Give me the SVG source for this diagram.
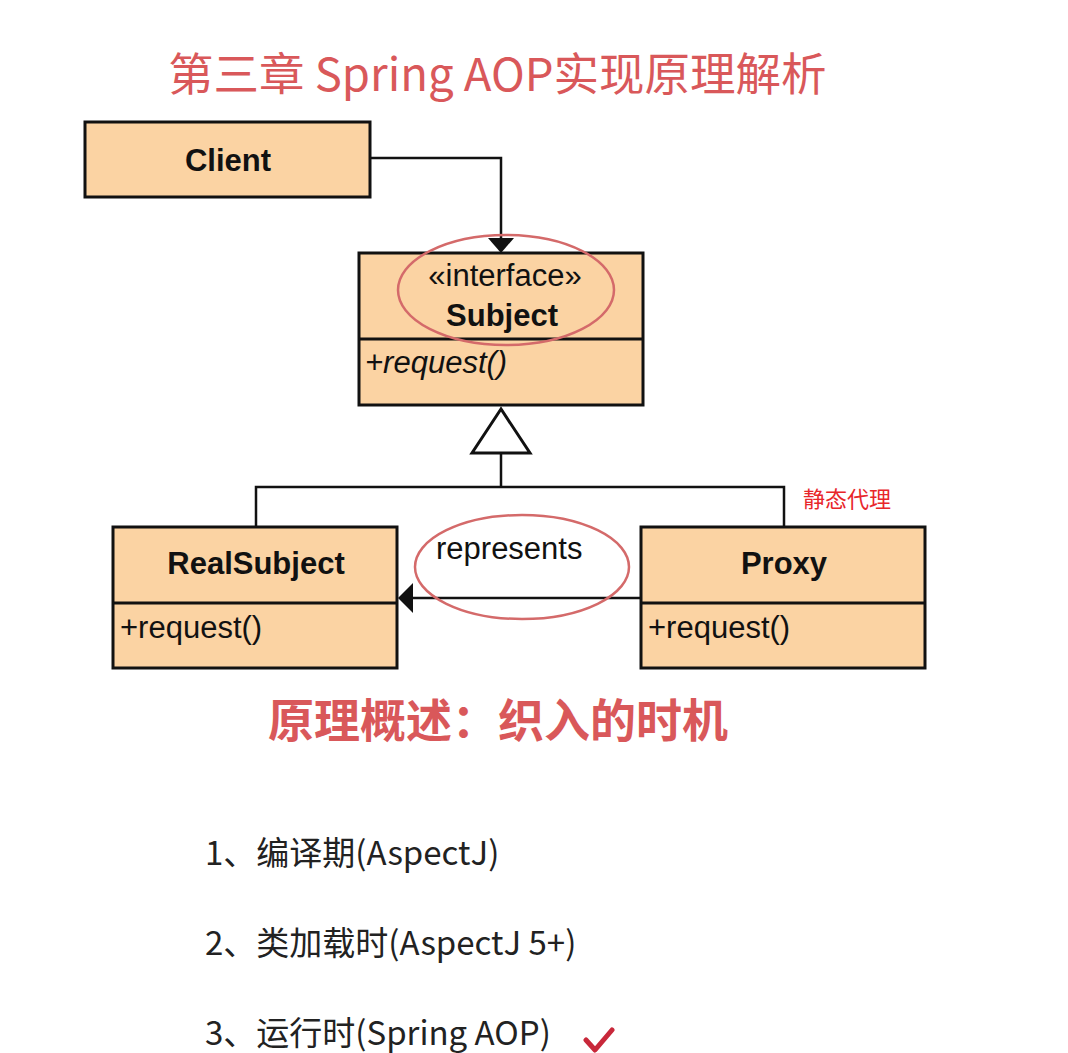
<svg xmlns="http://www.w3.org/2000/svg" width="1068" height="1053" viewBox="0 0 1068 1053">
<style>
.box{fill:#fbd3a3;stroke:#111;stroke-width:3}
.div{stroke:#111;stroke-width:3}
.lbl{font-family:"Liberation Sans",Arial,sans-serif;fill:#111;font-size:31px}
.b{font-weight:bold}
.conn{fill:none;stroke:#111;stroke-width:2.5}
.hl{fill:none;stroke:#d46a6a;stroke-width:2.5}
.red{font-family:"Noto Sans CJK SC",sans-serif;fill:#d9585a}
.item{font-family:"Noto Sans CJK SC",sans-serif;fill:#222;font-size:33px}
</style>
<rect width="1068" height="1053" fill="#fff"/>
<text class="red" x="168" y="91" font-size="45.5">第三章 Spring AOP实现原理解析</text>

<g id="connectors">
<path class="conn" d="M370,158 H501 V238"/>
<path d="M488,238 L514,238 L501,253 z" fill="#111"/>
<path class="conn" d="M501,453 V487 M256,527 V487 H784 V527"/>
<path d="M501,409 L472,453 L530,453 z" fill="#fff" stroke="#111" stroke-width="3" stroke-linejoin="miter"/>
<path class="conn" d="M641,598 H412"/>
<path d="M413,583 L413,613 L398,598 z" fill="#111"/>
</g>

<g id="client">
<rect class="box" x="85" y="122" width="285" height="75"/>
<text class="lbl b" x="228" y="171" text-anchor="middle">Client</text>
</g>

<g id="subject">
<rect class="box" x="359" y="253" width="284" height="152"/>
<line class="div" x1="359" y1="339" x2="643" y2="339"/>
<text class="lbl" x="505" y="286" text-anchor="middle" font-size="29">«interface»</text>
<text class="lbl b" x="502" y="326" text-anchor="middle">Subject</text>
<text class="lbl" x="365" y="373" font-style="italic">+request()</text>
<ellipse class="hl" cx="506" cy="290" rx="108" ry="55"/>
</g>

<g id="realsubject">
<rect class="box" x="113" y="527" width="284" height="141"/>
<line class="div" x1="113" y1="603" x2="397" y2="603"/>
<text class="lbl b" x="256" y="574" text-anchor="middle">RealSubject</text>
<text class="lbl" x="120" y="638">+request()</text>
</g>

<g id="proxy">
<rect class="box" x="641" y="527" width="284" height="141"/>
<line class="div" x1="641" y1="603" x2="925" y2="603"/>
<text class="lbl b" x="784" y="574" text-anchor="middle">Proxy</text>
<text class="lbl" x="648" y="638">+request()</text>
</g>

<g id="represents">
<text class="lbl" x="436" y="559">represents</text>
<ellipse class="hl" cx="522" cy="567" rx="107" ry="52"/>
</g>

<text x="803" y="507" font-family="Noto Sans CJK SC,sans-serif" font-size="22" fill="#e8262a">静态代理</text>

<text class="red" x="268" y="737" font-size="46" font-weight="bold" fill="#d64a4a">原理概述：织入的时机</text>

<text class="item" x="205" y="865">1、编译期(AspectJ)</text>
<text class="item" x="205" y="955">2、类加载时(AspectJ 5+)</text>
<text class="item" x="205" y="1045">3、运行时(Spring AOP)</text>
<path d="M586,1040 L595,1050 L612,1030" fill="none" stroke="#c8283a" stroke-width="5" stroke-linecap="round" stroke-linejoin="round"/>
</svg>
